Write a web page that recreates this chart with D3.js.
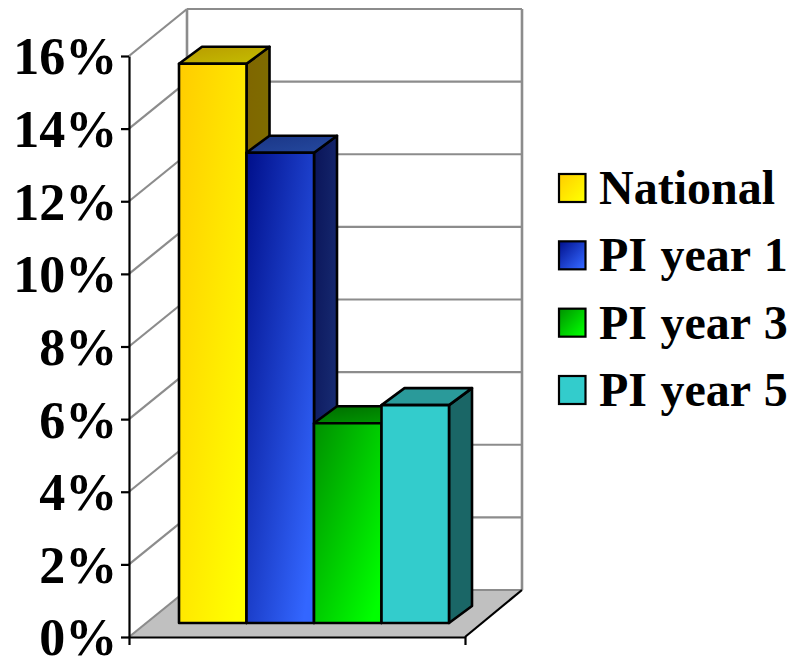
<!DOCTYPE html>
<html>
<head>
<meta charset="utf-8">
<script src="https://cdn.jsdelivr.net/npm/d3@7"></script>
<style>
html,body{margin:0;padding:0;background:#fff;overflow:hidden}
svg{display:block}
text{font-family:"Liberation Serif",serif;font-weight:bold;fill:#000}
</style>
</head>
<body>
<svg id="c" width="794" height="656"></svg>
<script>
const categories = ["National","PI year 1","PI year 3","PI year 5"];
const values = [15.4,12.95,5.5,6.0];
const tickValues = [0,2,4,6,8,10,12,14,16];
const frontStart = ["#FFCC00","#000F8A","#009000","#33CCCC"];
const frontEnd   = ["#FFFF00","#3366FF","#00FF00","#33CCCC"];
const topStart   = ["#B89A00","#1A3585","#006A00","#2A9A9A"];
const topEnd     = ["#C4BC00","#24489E","#009A00","#2A9A9A"];
const sideStart  = ["#7F6600","#0A1458","#004C00","#1A6666"];
const sideEnd    = ["#7F7000","#1A3078","#007000","#1A6666"];

const svg = d3.select("#c");
const y = d3.scaleLinear().domain([0,16]).range([637,56]);
const floorX = d3.scaleLinear().domain([0,1]).range([129,465]);
const x = d3.scaleBand().domain(categories).range([179,449]).padding(0);
const wallDx = 58, wallDy = -47;
const barDx = 23, barDy = -17, barLift = 14;
const grey = "#8C8C8C";

const defs = svg.append("defs");
function grad(id,a,b){
  const g = defs.append("linearGradient").attr("id",id)
    .attr("x1","0").attr("y1","0").attr("x2","1").attr("y2","1");
  g.append("stop").attr("offset","0").attr("stop-color",a);
  g.append("stop").attr("offset","0.92").attr("stop-color",b);
}
categories.forEach((c,i)=>{
  grad("f"+i,frontStart[i],frontEnd[i]);
  grad("t"+i,topStart[i],topEnd[i]);
  grad("s"+i,sideStart[i],sideEnd[i]);
});

// floor
const fx0=floorX(0), fx1=floorX(1), y0=y(0);
svg.append("path")
  .attr("d",`M${fx0},${y0}L${fx1},${y0}L${fx1+wallDx-1},${y0+wallDy}L${fx0+wallDx},${y0+wallDy}Z`)
  .attr("fill","#C0C0C0");

// walls and gridlines
const wall = svg.append("g").attr("fill","none").attr("stroke",grey).attr("stroke-width",2.2);
wall.selectAll(".back").data(tickValues).join("line")
  .attr("x1",fx0+wallDx).attr("x2",fx1+wallDx-1)
  .attr("y1",d=>y(d)+wallDy).attr("y2",d=>y(d)+wallDy);
wall.selectAll(".side").data(tickValues).join("line")
  .attr("x1",fx0).attr("x2",fx0+wallDx)
  .attr("y1",d=>y(d)).attr("y2",d=>y(d)+wallDy);
wall.append("line").attr("x1",fx0+wallDx).attr("x2",fx0+wallDx).attr("y1",y(16)+wallDy).attr("y2",y(0)+wallDy).attr("stroke-width",2.6);
wall.append("line").attr("x1",fx1+wallDx-1).attr("x2",fx1+wallDx-1).attr("y1",y(16)+wallDy).attr("y2",y(0)+wallDy).attr("stroke-width",2.6);
svg.append("line").attr("x1",fx1).attr("y1",y0).attr("x2",fx1+wallDx-1).attr("y2",y0+wallDy)
  .attr("stroke","#000").attr("stroke-width",2.2);

// bars
const bars = svg.append("g").attr("stroke","#000").attr("stroke-width",2.6).attr("stroke-linejoin","round");
categories.forEach((c,i)=>{
  const l=x(c), r=l+x.bandwidth(), t=y(values[i])-barLift, b=y(0)-barLift;
  const g=bars.append("g");
  g.append("path").attr("fill",`url(#s${i})`)
    .attr("d",`M${r},${t}L${r+barDx},${t+barDy}L${r+barDx},${b+barDy}L${r},${b}Z`);
  g.append("path").attr("fill",`url(#t${i})`)
    .attr("d",`M${l},${t}L${l+barDx},${t+barDy}L${r+barDx},${t+barDy}L${r},${t}Z`);
  g.append("rect").attr("fill",`url(#f${i})`)
    .attr("x",l).attr("y",t).attr("width",x.bandwidth()).attr("height",b-t);
});

// axes
const ay = svg.append("g").attr("transform",`translate(${fx0},0)`)
  .call(d3.axisLeft(y).tickValues(tickValues).tickFormat(d=>d+"%").tickSize(8).tickPadding(3.7).tickSizeOuter(0));
ay.selectAll("path,line").attr("stroke","#000").attr("stroke-width",2.2);
ay.selectAll("text").attr("font-size",52).attr("dy","0.345em").style("font-family",'"Liberation Serif",serif').style("font-weight","bold").attr("fill","#000");
const ax = svg.append("g").attr("transform",`translate(0,${y0})`)
  .call(d3.axisBottom(floorX).tickValues([0,1]).tickFormat("").tickSize(8).tickSizeOuter(0));
ax.selectAll("path,line").attr("stroke","#000").attr("stroke-width",2.2);

// legend
const legendY = d3.scalePoint().domain(categories).range([173,375]);
const lg = svg.append("g").selectAll("g").data(categories).join("g")
  .attr("transform",d=>`translate(559,${legendY(d)})`);
lg.append("rect").attr("x",0).attr("y",1).attr("width",26.5).attr("height",28)
  .attr("fill",(d,i)=>`url(#f${i})`).attr("stroke","#000").attr("stroke-width",2.2);
lg.append("text").attr("x",40).attr("y",31).attr("font-size",48).attr("word-spacing",1.5).text(d=>d);
</script>
</body>
</html>
